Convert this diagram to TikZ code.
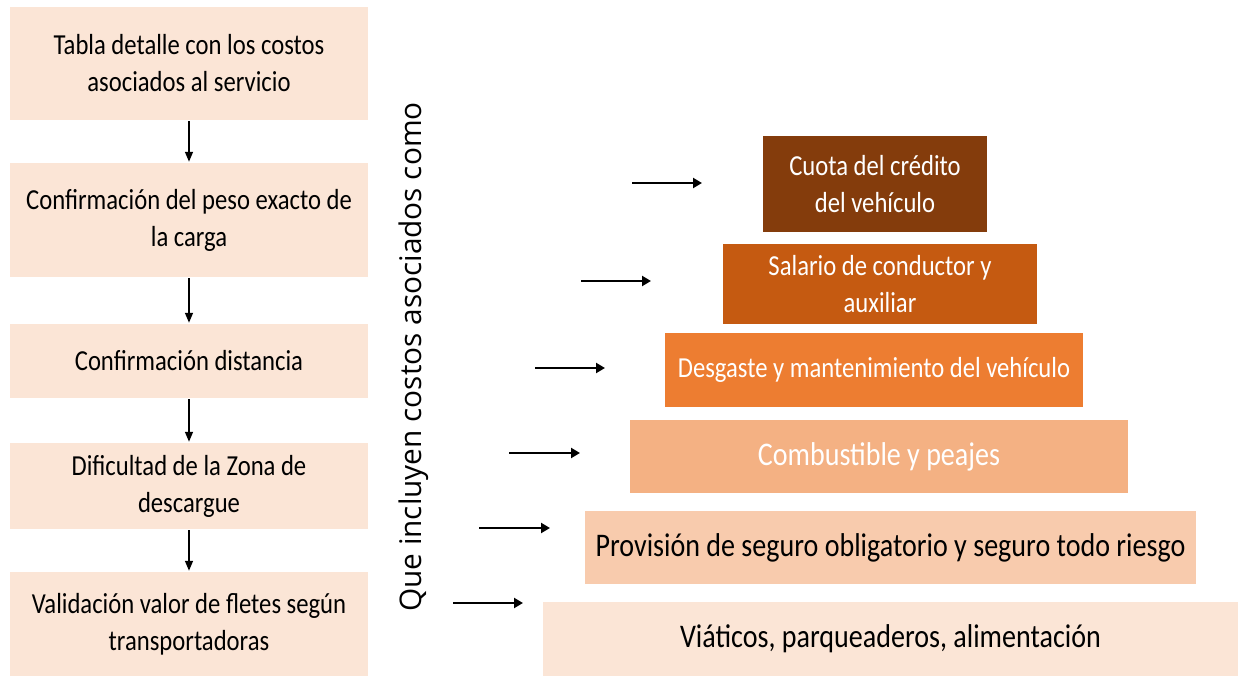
\documentclass[tikz,border=0pt]{standalone}
\usepackage{fontspec}
\setmainfont[FakeStretch=0.85]{Carlito}
\newfontfamily\rotulo{Open Sans}
\usetikzlibrary{arrows.meta, positioning}
\definecolor{durazno}{HTML}{FBE5D6}
\definecolor{salmon}{HTML}{F8CBAD}
\definecolor{melon}{HTML}{F4B183}
\definecolor{naranja}{HTML}{ED7D31}
\definecolor{ladrillo}{HTML}{C55A11}
\definecolor{cafe}{HTML}{843C0C}
\tikzset{
    paso/.style={rectangle, fill=durazno, inner sep=0pt, minimum width=179pt,
        align=center, font=\fontsize{14.5}{18.5}\selectfont},
    costo/.style={rectangle, inner sep=0pt, align=center, text=white,
        font=\fontsize{14.5}{18.5}\selectfont},
    grande/.style={font=\fontsize{16.5}{20}\selectfont},
    baja/.style={-{Triangle[length=5pt, width=3.8pt]}},
    lleva/.style={-{Triangle[length=4.5pt, width=5pt]}}
}

\begin{document}
\begin{tikzpicture}[x=0.5pt, y=-0.5pt, line width=1.1pt]
    \useasboundingbox (0,0) rectangle (1238,676);

    % pasos de la izquierda
    \node[paso, minimum height=56.5pt] (p1) at (189, 63.5) {Tabla detalle con los costos\\asociados al servicio};
    \node[paso, minimum height=57pt] (p2) at (189, 220) {Confirmación del peso exacto de\\la carga};
    \node[paso, minimum height=37pt] (p3) at (189, 361) {Confirmación distancia};
    \node[paso, minimum height=43pt] (p4) at (189, 486) {Dificultad de la Zona de\\descargue};
    \node[paso, minimum height=52pt] (p5) at (189, 624) {Validación valor de fletes según\\transportadoras};

    \draw
    (p1) edge[baja] (p2)
    (p2) edge[baja] (p3)
    (p3) edge[baja] (p4)
    (p4) edge[baja] (p5);

    % texto vertical
    \node[rotate=90, font=\rotulo\fontsize{14.9}{17}\selectfont] (q) at (414, 357) {Que incluyen costos asociados como};

    % piramide de costos
    \node[costo, fill=cafe, minimum width=112pt, minimum height=48pt] (c1) at (875, 184) {Cuota del crédito\\del vehículo};
    \node[costo, fill=ladrillo, minimum width=157pt, minimum height=40pt] (c2) at (880, 284) {Salario de conductor y\\auxiliar};
    \node[costo, fill=naranja, minimum width=209pt, minimum height=37pt] (c3) at (874, 370) {Desgaste y mantenimiento del vehículo};
    \node[costo, grande, fill=melon, minimum width=249pt, minimum height=36.5pt] (c4) at (879, 456.5) {Combustible y peajes};
    \node[costo, grande, fill=salmon, text=black, minimum width=305.5pt, minimum height=36.5pt] (c5) at (890.5, 547.5) {Provisión de seguro obligatorio y seguro todo riesgo};
    \node[costo, grande, fill=durazno, text=black, minimum width=347.5pt, minimum height=37pt] (c6) at (890.5, 639) {Viáticos, parqueaderos, alimentación};

    % flechas sueltas
    \coordinate (a1) at (632, 183);  \coordinate (b1) at (702, 183);
    \coordinate (a2) at (581, 281);  \coordinate (b2) at (651, 281);
    \coordinate (a3) at (535, 368);  \coordinate (b3) at (605, 368);
    \coordinate (a4) at (509, 453);  \coordinate (b4) at (580, 453);
    \coordinate (a5) at (479, 528);  \coordinate (b5) at (550, 528);
    \coordinate (a6) at (453, 603);  \coordinate (b6) at (523, 603);

    \draw
    (a1) edge[lleva] (b1)
    (a2) edge[lleva] (b2)
    (a3) edge[lleva] (b3)
    (a4) edge[lleva] (b4)
    (a5) edge[lleva] (b5)
    (a6) edge[lleva] (b6);
\end{tikzpicture}
\end{document}
